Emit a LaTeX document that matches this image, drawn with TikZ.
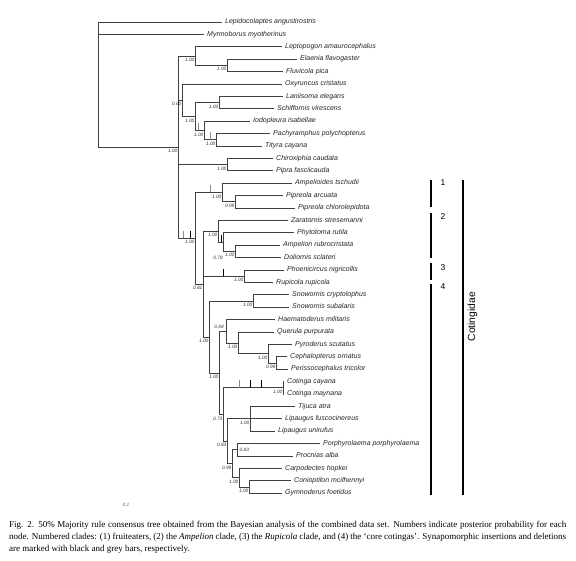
\documentclass[tikz,border=0pt]{standalone}
\usepackage{fontspec}
\setmainfont{Liberation Serif}
\setsansfont{Liberation Sans}
\begin{document}
\begin{tikzpicture}[x=1pt,y=-1pt,every node/.style={inner sep=0},
    branch/.style={draw=black!75,line width=0.65pt},
    taxon/.style={anchor=west,inner xsep=3pt,text height=5pt,text depth=1.5pt,text=black!85,font=\sffamily\itshape\fontsize{7}{8}\selectfont},
    pp/.style={anchor=north east,xshift=-0.4pt,yshift=-2pt,text=black!80,font=\sffamily\itshape\fontsize{4.8}{5}\selectfont},
    ppfree/.style={text=black!80,font=\sffamily\itshape\fontsize{4.8}{5}\selectfont},
    ins/.style={draw=black,line width=1pt},
    del/.style={draw=black!45,line width=0.8pt},
    cladebar/.style={draw=black,line width=1.2pt},
    cladeno/.style={anchor=north,font=\sffamily\fontsize{8.5}{9}\selectfont}]
    \useasboundingbox[fill=white] (0,0) rectangle (576,561);

    % taxa
    \node[taxon] (lep) at (222,22.0) {Lepidocolaptes angustirostris};
    \node[taxon] (myr) at (204,34.4) {Myrmoborus myotherinus};
    \node[taxon] (lepto) at (282,46.8) {Leptopogon amaurocephalus};
    \node[taxon] (ela) at (297,59.2) {Elaenia flavogaster};
    \node[taxon] (flu) at (283,71.6) {Fluvicola pica};
    \node[taxon] (oxy) at (282,84.0) {Oxyruncus cristatus};
    \node[taxon] (lan) at (283,96.4) {Laniisoma elegans};
    \node[taxon] (sch) at (274,108.8) {Schiffornis virescens};
    \node[taxon] (iod) at (250,121.2) {Iodopleura isabellae};
    \node[taxon] (pac) at (270,133.6) {Pachyramphus polychopterus};
    \node[taxon] (tit) at (262,146.0) {Tityra cayana};
    \node[taxon] (chi) at (273,158.4) {Chiroxiphia caudata};
    \node[taxon] (pip) at (273,170.8) {Pipra fasciicauda};
    \node[taxon] (amp) at (292,183.2) {Ampelioides tschudii};
    \node[taxon] (parc) at (283,195.6) {Pipreola arcuata};
    \node[taxon] (pchl) at (295,208.0) {Pipreola chlorolepidota};
    \node[taxon] (zar) at (288,220.4) {Zaratornis stresemanni};
    \node[taxon] (phy) at (294,232.8) {Phytotoma rutila};
    \node[taxon] (arub) at (280,245.2) {Ampelion rubrocristata};
    \node[taxon] (dol) at (281,257.6) {Doliornis sclateri};
    \node[taxon] (pho) at (284,270.0) {Phoenicircus nigricollis};
    \node[taxon] (rup) at (273,282.4) {Rupicola rupicola};
    \node[taxon] (scry) at (289,294.8) {Snowornis cryptolophus};
    \node[taxon] (ssub) at (289,307.2) {Snowornis subalaris};
    \node[taxon] (hae) at (275,319.6) {Haematoderus militaris};
    \node[taxon] (que) at (274,332.0) {Querula purpurata};
    \node[taxon] (pyr) at (292,344.4) {Pyroderus scutatus};
    \node[taxon] (cep) at (287,356.8) {Cephalopterus ornatus};
    \node[taxon] (per) at (288,369.2) {Perissocephalus tricolor};
    \node[taxon] (ccay) at (284,381.6) {Cotinga cayana};
    \node[taxon] (cmay) at (284,394.0) {Cotinga maynana};
    \node[taxon] (tij) at (295,406.4) {Tijuca atra};
    \node[taxon] (lfus) at (282,418.8) {Lipaugus fuscocinereus};
    \node[taxon] (luni) at (275,431.2) {Lipaugus unirufus};
    \node[taxon] (por) at (320,443.6) {Porphyrolaema porphyrolaema};
    \node[taxon] (pro) at (293,456.0) {Procnias alba};
    \node[taxon] (car) at (282,468.4) {Carpodectes hopkei};
    \node[taxon] (con) at (291,480.8) {Conioptilon mcilhennyi};
    \node[taxon] (gym) at (282,493.2) {Gymnoderus foetidus};

    % internal nodes
    \coordinate (root) at (98,84.6);
    \coordinate (ingr) at (178,147.2);
    \coordinate (tyr) at (195,56.1);
    \coordinate (elafl) at (227,65.4);
    \coordinate (oxyc) at (182,100.3);
    \coordinate (tity) at (195,116.6);
    \coordinate (lansch) at (219,102.6);
    \coordinate (iodo) at (204,130.5);
    \coordinate (pactit) at (216,139.8);
    \coordinate (pipr) at (227,164.6);
    \coordinate (coti) at (195,238.3);
    \coordinate (fruit) at (222,192.5);
    \coordinate (pipre) at (235,201.8);
    \coordinate (rest) at (203,284.1);
    \coordinate (ampcl) at (218,231.3);
    \coordinate (phyt) at (223,242.1);
    \coordinate (ampdol) at (235,251.4);
    \coordinate (rupcl) at (244,276.2);
    \coordinate (core) at (209,337);
    \coordinate (snow) at (253,301);
    \coordinate (core2) at (219,372.9);
    \coordinate (haem) at (226,331.2);
    \coordinate (quer) at (238,342.85);
    \coordinate (pyro) at (268,353.7);
    \coordinate (cepper) at (276,363);
    \coordinate (coti2) at (223,414.5);
    \coordinate (cotinga) at (283,387.8);
    \coordinate (lipa) at (227,441.3);
    \coordinate (tijlip) at (250,418.8);
    \coordinate (proc) at (232,463.75);
    \coordinate (porpro) at (237,449.8);
    \coordinate (carp) at (239,477.7);
    \coordinate (congym) at (249,487);

    % branches
    \draw[branch] (root) |- (lep.west) (root) |- (myr.west) (root) |- (ingr);
    \draw[branch] (ingr) |- (tyr) (ingr) |- (oxyc) (ingr) |- (pipr) (ingr) |- (coti);
    \draw[branch] (tyr) |- (lepto.west) (tyr) |- (elafl);
    \draw[branch] (elafl) |- (ela.west) (elafl) |- (flu.west);
    \draw[branch] (oxyc) |- (oxy.west) (oxyc) |- (tity);
    \draw[branch] (tity) |- (lansch) (tity) |- (iodo);
    \draw[branch] (lansch) |- (lan.west) (lansch) |- (sch.west);
    \draw[branch] (iodo) |- (iod.west) (iodo) |- (pactit);
    \draw[branch] (pactit) |- (pac.west) (pactit) |- (tit.west);
    \draw[branch] (pipr) |- (chi.west) (pipr) |- (pip.west);
    \draw[branch] (coti) |- (fruit) (coti) |- (rest);
    \draw[branch] (fruit) |- (amp.west) (fruit) |- (pipre);
    \draw[branch] (pipre) |- (parc.west) (pipre) |- (pchl.west);
    \draw[branch] (rest) |- (ampcl) (rest) |- (rupcl) (rest) |- (core);
    \draw[branch] (ampcl) |- (zar.west) (ampcl) |- (phyt);
    \draw[branch] (phyt) |- (phy.west) (phyt) |- (ampdol);
    \draw[branch] (ampdol) |- (arub.west) (ampdol) |- (dol.west);
    \draw[branch] (rupcl) |- (pho.west) (rupcl) |- (rup.west);
    \draw[branch] (core) |- (snow) (core) |- (core2);
    \draw[branch] (snow) |- (scry.west) (snow) |- (ssub.west);
    \draw[branch] (core2) |- (haem) (core2) |- (coti2);
    \draw[branch] (haem) |- (hae.west) (haem) |- (quer);
    \draw[branch] (quer) |- (que.west) (quer) |- (pyro);
    \draw[branch] (pyro) |- (pyr.west) (pyro) |- (cepper);
    \draw[branch] (cepper) |- (cep.west) (cepper) |- (per.west);
    \draw[branch] (coti2) |- (cotinga) (coti2) |- (lipa);
    \draw[branch] (cotinga) |- (ccay.west) (cotinga) |- (cmay.west);
    \draw[branch] (lipa) |- (tijlip) (lipa) |- (proc);
    \draw[branch] (tijlip) |- (tij.west) (tijlip) |- (lfus.west) (tijlip) |- (luni.west);
    \draw[branch] (proc) |- (porpro) (proc) |- (carp);
    \draw[branch] (porpro) |- (por.west) (porpro) |- (pro.west);
    \draw[branch] (carp) |- (car.west) (carp) |- (congym);
    \draw[branch] (congym) |- (con.west) (congym) |- (gym.west);

    % posterior probabilities
    \node[pp] (p-ingr) at (ingr) {1.00};
    \node[pp] (p-tyr) at (tyr) {1.00};
    \node[pp] (p-elafl) at (elafl) {1.00};
    \node[pp] (p-oxyc) at (oxyc) {0.60};
    \node[pp] (p-tity) at (tity) {1.00};
    \node[pp] (p-lansch) at (lansch) {1.00};
    \node[pp] (p-iodo) at (iodo) {1.00};
    \node[pp] (p-pactit) at (pactit) {1.00};
    \node[pp] (p-pipr) at (pipr) {1.00};
    \node[pp] (p-coti) at (coti) {1.00};
    \node[pp] (p-fruit) at (fruit) {1.00};
    \node[pp] (p-pipre) at (pipre) {0.99};
    \node[pp] (p-rest) at (rest) {0.81};
    \node[pp] (p-ampcl) at (ampcl) {1.00};
    \node[ppfree,anchor=east] (p-phyt) at (223,258) {0.78};
    \node[pp] (p-ampdol) at (ampdol) {1.00};
    \node[pp] (p-rupcl) at (rupcl) {1.00};
    \node[pp] (p-core) at (core) {1.00};
    \node[pp] (p-snow) at (snow) {1.00};
    \node[pp] (p-core2) at (core2) {1.00};
    \node[ppfree,anchor=east] (p-haem) at (224,327) {0.94};
    \node[pp] (p-quer) at (quer) {1.00};
    \node[pp] (p-pyro) at (pyro) {1.00};
    \node[pp] (p-cepper) at (cepper) {0.99};
    \node[pp] (p-coti2) at (coti2) {0.73};
    \node[pp] (p-cotinga) at (cotinga) {1.00};
    \node[pp] (p-lipa) at (lipa) {0.83};
    \node[pp] (p-tijlip) at (tijlip) {1.00};
    \node[pp] (p-proc) at (proc) {0.99};
    \node[ppfree,anchor=west] (p-porpro) at (239.5,450) {0.83};
    \node[pp] (p-carp) at (carp) {1.00};
    \node[pp] (p-congym) at (congym) {1.00};

    % indels
    \draw[del] ([xshift=-6pt]iodo) -- ++(0,-7.5);
    \draw[del] ([xshift=-6pt]pactit) -- ++(0,-7.5);
    \draw[del] ([xshift=-11.7pt]coti) -- ++(0,-7.5);
    \draw[ins] ([xshift=-5pt]coti) -- ++(0,-7.5);
    \draw[del] ([xshift=-12pt]fruit) -- ++(0,-7.5);
    \draw[ins] ([xshift=-2pt]phyt) -- ++(0,-7.5);
    \draw[ins] ([xshift=-21pt]rupcl) -- ++(0,-7.5);
    \draw[del] ([xshift=-43.7pt]cotinga) -- ++(0,-7.5);
    \draw[ins] ([xshift=-32.3pt]cotinga) -- ++(0,-7.5);
    \draw[ins] ([xshift=-21.3pt]cotinga) -- ++(0,-7.5);

    % clades
    \draw[cladebar] (431,180) -- (431,207);
    \node[cladeno] (c1) at (443,179.5) {1};
    \draw[cladebar] (431,213.5) -- (431,258.5);
    \node[cladeno] (c2) at (443,213) {2};
    \draw[cladebar] (431,263.5) -- (431,280.5);
    \node[cladeno] (c3) at (443,264) {3};
    \draw[cladebar] (431,284.5) -- (431,495);
    \node[cladeno] (c4) at (443,283) {4};
    \draw[cladebar,line width=1.4pt] (463,180) -- (463,495);
    \node[rotate=90,font=\sffamily\fontsize{10.3}{11}\selectfont] (fam) at (472.5,316.7) {Cotingidae};

    \node[ppfree,text=black!65] (scale) at (126,505) {0.1};

    \node[anchor=north west,align=left,font=\fontsize{9}{12}\selectfont] (cap) at (9,521.4)
        {\makebox[557pt][s]{Fig. 2. 50\% Majority rule consensus tree obtained from the Bayesian analysis of the combined data set. Numbers indicate posterior probability for each}\\
         \makebox[557pt][s]{node. Numbered clades: (1) fruiteaters, (2) the \textit{Ampelion} clade, (3) the \textit{Rupicola} clade, and (4) the ‘core cotingas’. Synapomorphic insertions and deletions}\\
         are marked with black and grey bars, respectively.};
\end{tikzpicture}
\end{document}
